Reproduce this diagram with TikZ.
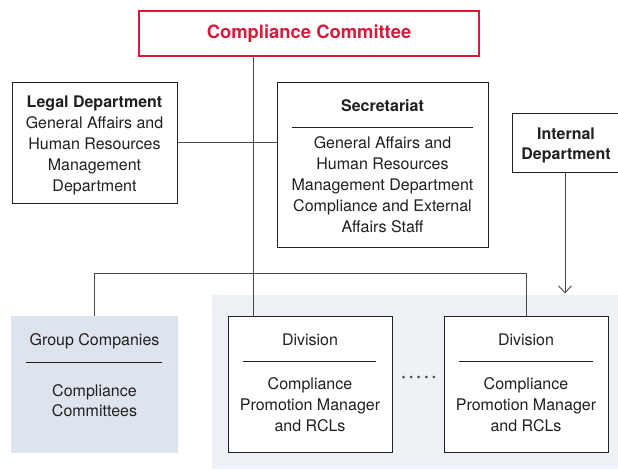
\documentclass[tikz,border=0pt]{standalone}
\usepackage{fontspec}
\setmainfont{TeX Gyre Heros}
\usepackage{xcolor}
\usepackage{tikz}
\usetikzlibrary{arrows.meta}

\definecolor{comred}{HTML}{D51B3B}
\definecolor{inkgray}{HTML}{231F20}
\definecolor{wiregray}{HTML}{4A4A4A}
\definecolor{areablue}{HTML}{EEF2F7}
\definecolor{groupblue}{HTML}{DEE4ED}

\begin{document}
\begin{tikzpicture}[
  x=1pt,y=-1pt,
  every node/.style={font=\fontsize{16}{21}\selectfont,text=inkgray,align=center},
  orgbox/.style={draw=inkgray,line width=0.9pt,fill=white,inner sep=0pt},
  wire/.style={draw=wiregray,line width=0.9pt},
  rulebar/.style={draw=inkgray,line width=0.8pt},
  title/.style={inner sep=0pt},
]
\useasboundingbox (0,0) rectangle (618,469);
% shaded area behind the divisions
\fill[areablue] (212,295) rectangle (618,469);

\node[draw=comred,line width=1.2pt,minimum width=340,minimum height=45,
  text=comred,font=\fontsize{18.4}{22}\selectfont\bfseries] (com) at (309,33.5) {Compliance Committee};

\node[orgbox,minimum width=165,minimum height=121] (legal) at (94.5,142.5) {};
\node[title] (legalt) at (94.5,145)
  {\textbf{Legal Department}\\General Affairs and\\Human Resources\\Management\\Department};

\node[orgbox,minimum width=211,minimum height=165] (sec) at (382.5,164.5) {};
\node[title,font=\fontsize{16}{21}\selectfont\bfseries] (sect) at (382.5,106) {Secretariat};
\draw[rulebar] (292,127) -- (473,127);
\node[title] (secb) at (382.5,185)
  {General Affairs and\\Human Resources\\Management Department\\Compliance and External\\Affairs Staff};

\node[orgbox,minimum width=106,minimum height=59] (intl) at (565,142.5) {};
\node[title,font=\fontsize{16}{20}\selectfont\bfseries] (intlt) at (566,145) {Internal\\Department};

\node[fill=groupblue,inner sep=0pt,minimum width=167,minimum height=137] (grp) at (94.5,384.5) {};
\node[title] (grpt) at (94.5,341) {Group Companies};
\draw[rulebar] (26,362) -- (162,362);
\node[title,font=\fontsize{16}{20}\selectfont] (grpb) at (94.5,401) {Compliance\\Committees};

\node[orgbox,minimum width=164,minimum height=136] (div1) at (310,384) {};
\node[title] (div1t) at (310,340) {Division};
\draw[rulebar] (243,361) -- (376,361);
\node[title] (div1b) at (310,405) {Compliance\\Promotion Manager\\and RCLs};

\node[orgbox,minimum width=164,minimum height=136] (div2) at (526,384) {};
\node[title] (div2t) at (526,340) {Division};
\draw[rulebar] (459,361) -- (593,361);
\node[title] (div2b) at (526,405) {Compliance\\Promotion Manager\\and RCLs};

% dots between the divisions
\foreach \i in {0,...,4}
  \fill[wiregray] (403.5+7.6*\i,377) circle (1.5);

% connectors
\coordinate (trunk) at ([xshift=-56]com.south);
\coordinate (bus) at (0,273);
\draw[wire] (trunk) -- (trunk |- div1.north);
\draw[wire] (legal.east) -- (sec.west |- legal.east);
\draw[wire] (grp.north) -- (grp.north |- bus) -- (div2.north |- bus) -- (div2.north);
\draw[wire,-{Straight Barb[length=7pt,width=13pt]}] (intl.south) -- ++(0,121);
\end{tikzpicture}
\end{document}
